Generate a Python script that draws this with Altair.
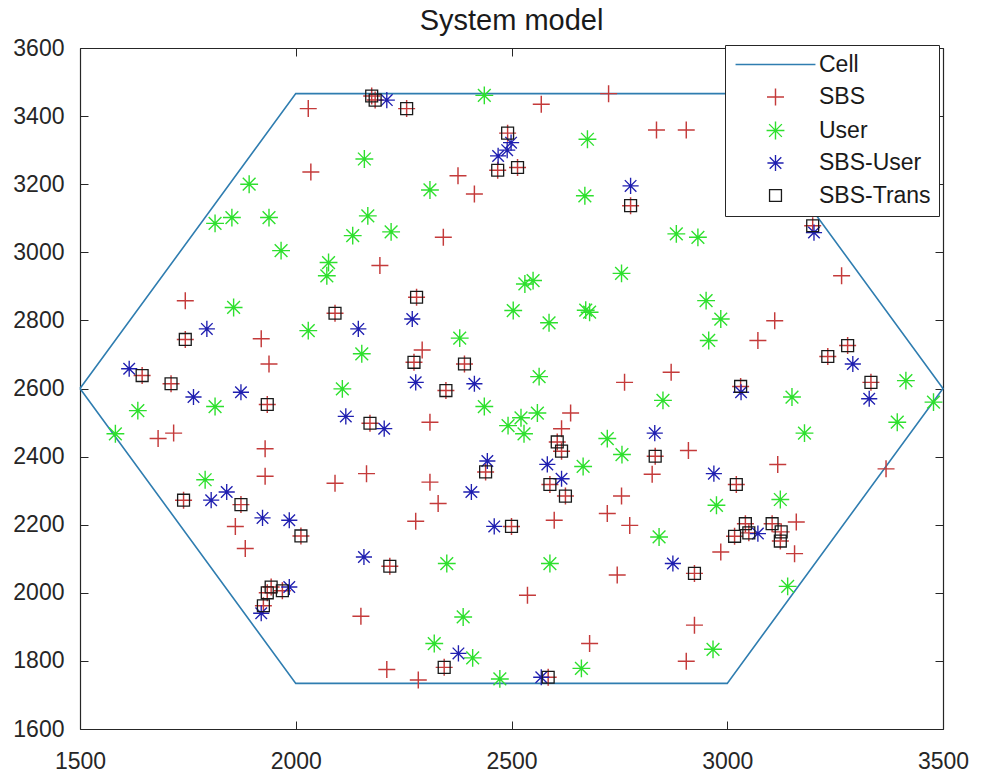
import altair as alt
import pandas as pd

# Hexagonal cell boundary (vertices, closed)
hex_x = [1500, 2000, 3000, 3500, 3000, 2000, 1500]
hex_y = [2600, 3466, 3466, 2600, 1734, 1734, 2600]

# SBS positions (red +), excluding those that are also SBS-Trans
sbs_x = [2029, 2035, 1744, 1920, 1938, 1681, 1717, 1929, 1929, 2091, 2164, 1860, 1883, 2151,
         2569, 2725, 2836, 2376, 2414, 2342, 2195, 2293, 2762, 2311, 2637, 2616, 2826, 2755,
         2722, 2774, 2599, 2311, 2330, 2278, 2745, 2537, 2681, 2211, 2284, 2905, 3265, 3110,
         3071, 2870, 2910, 3117, 3368, 3160, 3156, 2985, 2924, 2905]
sbs_y = [3422, 3236, 2858, 2746, 2672, 2453, 2469, 2423, 2342, 2322, 2350, 2195, 2130, 1931,
         3435, 3466, 3359, 3225, 3171, 3044, 2961, 2713, 2618, 2501, 2528, 2482, 2348, 2284,
         2233, 2198, 2213, 2325, 2262, 2210, 2052, 1993, 1851, 1775, 1744, 3359, 2931, 2799,
         2741, 2648, 2418, 2377, 2364, 2208, 2115, 2120, 1905, 1799]

# Users (green *)
user_x = [2159, 1892, 1813, 1852, 1938, 2167, 2132, 1966, 2076, 2072, 1856, 2029, 2153, 2108,
          1634, 1813, 1582, 1790, 2437, 2676, 2311, 2670, 2221, 2755, 2531, 2550, 2504, 2681,
          2672, 2587, 2380, 2564, 2437, 2492, 2522, 2529, 2560, 2722, 2756, 2666, 2842, 2350,
          2589, 2388, 2321, 2410, 2473, 2662, 2882, 2932, 2951, 2985, 2957, 3414, 2851, 3150,
          3478, 3394, 3179, 2975, 3123, 3140, 2967]
user_y = [3274, 3200, 3085, 3102, 3102, 3107, 3049, 3005, 2970, 2931, 2838, 2770, 2702, 2599,
          2535, 2547, 2467, 2332, 3461, 3332, 3183, 3166, 3060, 2938, 2907, 2917, 2829, 2824,
          2830, 2793, 2748, 2635, 2547, 2491, 2514, 2467, 2528, 2453, 2406, 2371, 2164, 2086,
          2086, 1929, 1851, 1809, 1747, 1778, 3054, 3044, 2858, 2804, 2741, 2623, 2565, 2575,
          2560, 2501, 2469, 2257, 2274, 2019, 1834]

# SBS-User (blue *)
su_x = [1794, 2145, 1614, 1763, 1873, 2116, 1804, 1840, 1923, 1985, 2158, 1985, 1920, 2211,
        2499, 2490, 2469, 2776, 2270, 2278, 2414, 2205, 2583, 2616, 2832, 2444, 2407, 2460,
        2377, 2569, 3201, 3291, 3032, 3329, 2969, 3071, 2874]
su_y = [2775, 2775, 2658, 2575, 2589, 2518, 2272, 2296, 2220, 2213, 2105, 2017, 1940, 3447,
        3322, 3300, 3283, 3195, 2804, 2618, 2614, 2482, 2377, 2335, 2469, 2387, 2296, 2195,
        1822, 1752, 3058, 2672, 2589, 2570, 2350, 2174, 2086]

# SBS-Trans (black squares, drawn over an SBS +)
st_x = [2091, 1744, 1644, 1711, 1934, 2172, 1740, 1873, 2012, 1943, 1934, 1969, 1925, 2176,
        2184, 2257, 2491, 2468, 2514, 2776, 2280, 2274, 2391, 2348, 2606, 2616, 2589, 2625,
        2833, 2440, 2500, 2218, 2344, 2585, 3198, 3233, 3279, 3333, 3031, 3021, 3042, 3017,
        3050, 3104, 3125, 3123, 2924]
st_y = [2821, 2744, 2638, 2614, 2553, 2498, 2272, 2259, 2167, 2017, 2000, 2006, 1962, 3459,
        3447, 3422, 3350, 3241, 3249, 3137, 2868, 2677, 2672, 2594, 2443, 2416, 2318, 2284,
        2401, 2355, 2195, 2078, 1781, 1752, 3078, 2694, 2726, 2618, 2606, 2318, 2203, 2166,
        2176, 2203, 2179, 2152, 2057]

x_ticks = [1500, 2000, 2500, 3000, 3500]
y_ticks = [1600, 1800, 2000, 2200, 2400, 2600, 2800, 3000, 3200, 3400, 3600]

series_names = ["Cell", "SBS", "User", "SBS-User", "SBS-Trans"]
series_colors = ["#2F7DB0", "#C43A3A", "#2EE02E", "#1F1FB0", "#1A1A1A"]
series_shapes = [
    "M-4.7,0L4.7,0",
    "M-1,0L1,0M0,-1L0,1",
    "M-1.05,0L1.05,0M0,-1.05L0,1.05M-0.75,-0.75L0.75,0.75M-0.75,0.75L0.75,-0.75",
    "M-0.95,0L0.95,0M0,-0.95L0,0.95M-0.68,-0.68L0.68,0.68M-0.68,0.68L0.68,-0.68",
    "M-0.7,-0.7L0.7,-0.7L0.7,0.7L-0.7,0.7Z",
]
series_widths = [1.5, 1.3, 2.0, 1.6, 1.5]

hex_df = pd.DataFrame({"x": hex_x, "y": hex_y, "i": list(range(len(hex_x)))})

pts = pd.concat([
    pd.DataFrame({"x": sbs_x + st_x, "y": sbs_y + st_y, "series": "SBS"}),
    pd.DataFrame({"x": user_x, "y": user_y, "series": "User"}),
    pd.DataFrame({"x": su_x, "y": su_y, "series": "SBS-User"}),
    pd.DataFrame({"x": st_x, "y": st_y, "series": "SBS-Trans"}),
], ignore_index=True)

FONT = "Liberation Sans"
AX = "#262626"
xscale = alt.Scale(domain=[1500, 3500], nice=False, zero=False)
yscale = alt.Scale(domain=[1600, 3600], nice=False, zero=False)


def axis(orient, values, labels=True, pad=24):
    return alt.Axis(orient=orient, values=values, title=None, grid=False, labels=labels,
                    format="d",
                    tickSize=alt.ExprRef(expr="-8"), tickColor=AX, tickWidth=1,
                    domainColor=AX, domainWidth=1.2, labelFont=FONT, labelFontSize=23,
                    labelColor=AX, labelPadding=pad, labelFlush=False, labelOverlap=False)


line = alt.Chart(hex_df).mark_line(color="#2F7DB0", strokeWidth=1.6).encode(
    x=alt.X("x:Q", scale=xscale, axis=axis("bottom", x_ticks, pad=29)),
    y=alt.Y("y:Q", scale=yscale, axis=axis("left", y_ticks)),
    order=alt.Order("i:Q"),
)

leg = alt.Legend(title=None, orient="none", legendX=645, legendY=-3, direction="vertical",
                 padding=8, rowPadding=8.5, symbolOffset=31, labelOffset=32,
                 labelFont=FONT, labelFontSize=23, labelColor="#1a1a1a",
                 fillColor="white", strokeColor=AX, symbolSize=289,
                 symbolStrokeWidth=1.4, labelLimit=0)

points = alt.Chart(pts).mark_point(filled=False, size=289, opacity=1).encode(
    x=alt.X("x:Q", scale=xscale, axis=axis("top", x_ticks, labels=False)),
    y=alt.Y("y:Q", scale=yscale, axis=axis("right", y_ticks, labels=False)),
    color=alt.Color("series:N", scale=alt.Scale(domain=series_names, range=series_colors), legend=leg),
    shape=alt.Shape("series:N", scale=alt.Scale(domain=series_names, range=series_shapes), legend=leg),
    strokeWidth=alt.StrokeWidth("series:N", scale=alt.Scale(domain=series_names, range=series_widths), legend=None),
)

chart = alt.layer(line, points).resolve_axis(x="independent", y="independent").properties(
    width=863, height=681,
    title=alt.TitleParams("System model", fontSize=29, font=FONT, fontWeight="normal",
                          color="#1a1a1a", anchor="middle", baseline="alphabetic",
                          frame="group", offset=15, dy=37),
    padding={"left": 80, "top": 48, "right": 43, "bottom": 45},
    autosize=alt.AutoSizeParams(type="none"),
).configure_view(stroke=None).configure(background="white")

chart.save("out.html", embed_options={"renderer": "svg", "actions": False})
